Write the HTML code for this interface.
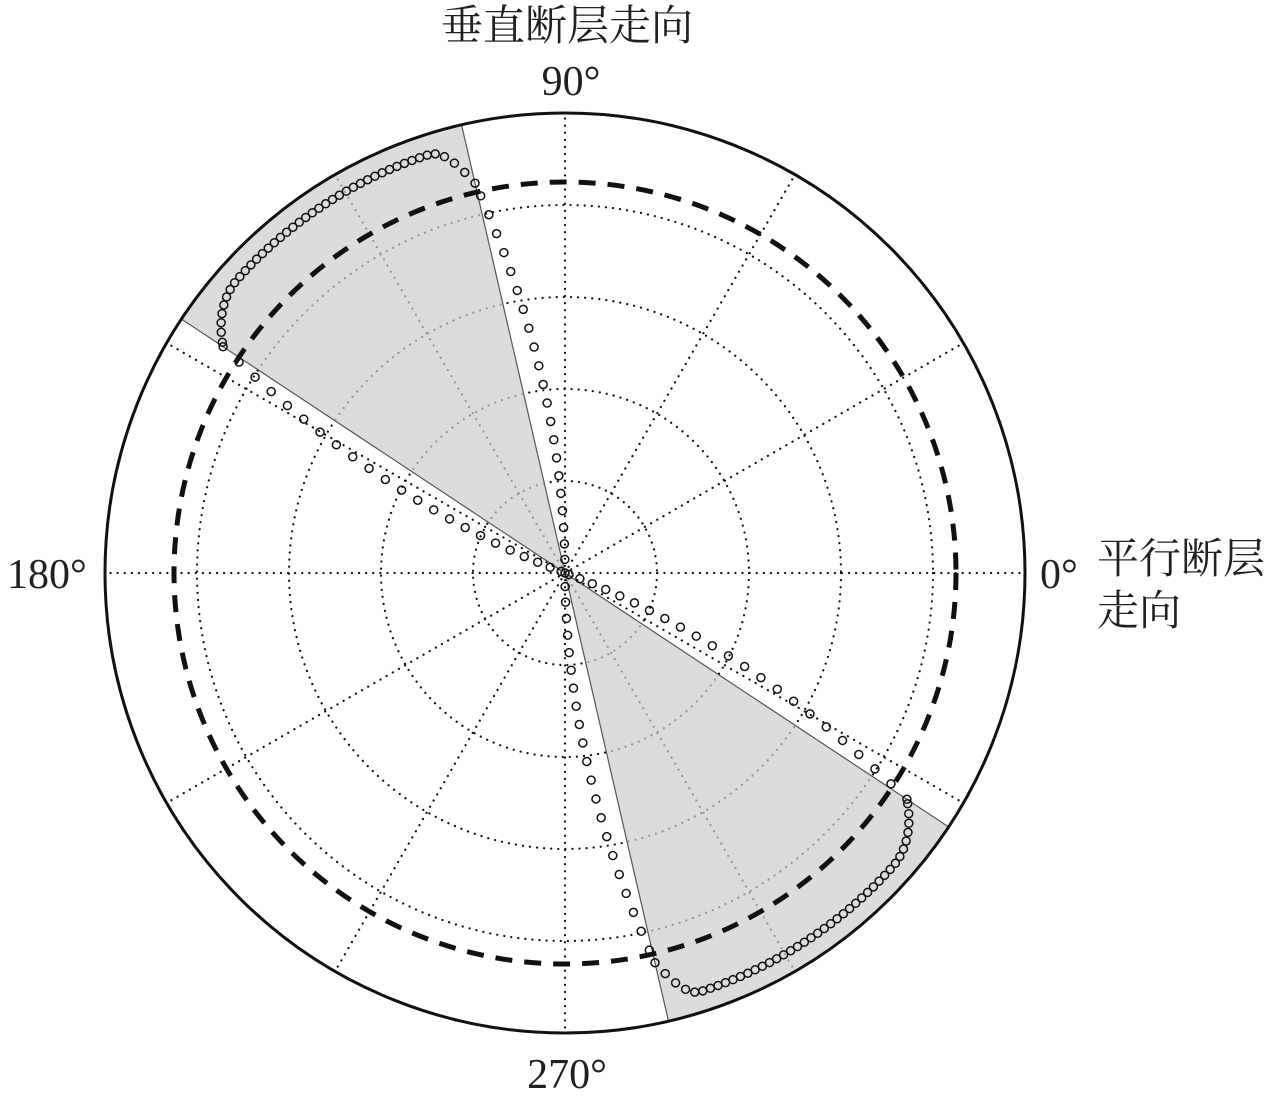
<!DOCTYPE html>
<html><head><meta charset="utf-8"><style>
html,body{margin:0;padding:0;background:#fff;}
svg{display:block}
text{font-family:"Liberation Serif","Noto Serif CJK SC",serif;fill:#231f20}
</style></head><body>
<svg id="s" width="1280" height="1100" viewBox="0 0 1280 1100" xmlns="http://www.w3.org/2000/svg">
<defs>
<clipPath id="cp"><path id="cpp"/></clipPath>
<mask id="mk"><rect width="1280" height="1100" fill="#fff"/><path id="mkp" fill="#000"/></mask>
</defs>
<g id="sect" fill="#dcdcdc" stroke="#555" stroke-width="1.2"></g>
<g id="gridB" fill="none" stroke="#111" stroke-width="2.2" stroke-linecap="round" stroke-dasharray="0.1 7" mask="url(#mk)"></g>
<g id="gridG" fill="none" stroke="#999" stroke-width="2.2" stroke-linecap="round" stroke-dasharray="0.1 7" clip-path="url(#cp)"></g>
<circle cx="565" cy="573" r="391" fill="none" stroke="#111" stroke-width="5" stroke-dasharray="17 12"/>
<circle cx="565" cy="573" r="460" fill="none" stroke="#111" stroke-width="3"/>
<g id="pts" fill="none" stroke="#111" stroke-width="1.5"></g>
<text x="567" y="40" font-size="42" text-anchor="middle">垂直断层走向</text>
<text x="571" y="95" font-size="42" text-anchor="middle">90°</text>
<text x="7" y="588" font-size="42">180°</text>
<text x="1040" y="588" font-size="42">0°</text>
<text x="1097" y="573" font-size="42">平行断层</text>
<text x="1097" y="625" font-size="42">走向</text>
<text x="567" y="1088" font-size="42" text-anchor="middle">270°</text>
</svg>
<script>
var NS="http://www.w3.org/2000/svg",cx=565,cy=573,R=460;
function el(t,a,p){var e=document.createElementNS(NS,t);for(var k in a)e.setAttribute(k,a[k]);document.getElementById(p).appendChild(e);return e;}
function P(r,d){var a=d*Math.PI/180;return [cx+r*Math.cos(a),cy-r*Math.sin(a)];}
var all='';
[[103,146.5],[283,326.5]].forEach(function(s){
 var a=P(R,s[0]),b=P(R,s[1]);
 var d='M'+cx+' '+cy+'L'+a[0]+' '+a[1]+'A'+R+' '+R+' 0 0 0 '+b[0]+' '+b[1]+'Z';
 el('path',{d:d},'sect');
 all+=d;
});
document.getElementById('cpp').setAttribute('d',all);
document.getElementById('mkp').setAttribute('d',all);
['gridB','gridG'].forEach(function(g){
 [92,184,276,368].forEach(function(r){el('circle',{cx:cx,cy:cy,r:r},g);});
 for(var d=0;d<360;d+=30){var a=P(R,d);el('line',{x1:cx,y1:cy,x2:a[0],y2:a[1]},g);}
});
function rad(t){
 if(t<90||t>160)return -1;
 if(t<103)return 400*Math.pow((t-90)/13,1.1);
 if(t<108)return 400+40*Math.sin((t-103)/5*Math.PI/2);
 if(t<=138)return 440;
 if(t<146.5)return 440-30*Math.pow((t-138)/8.5,2);
 return 410*Math.pow(Math.max(0,(160-t)/13.5),1.2);
}
var ts=[];
for(var t=90;t<103;t+=0.6)ts.push(t);
for(var t=103;t<146.5;t+=1.05)ts.push(t);
for(var t=146.5;t<=160;t+=0.6)ts.push(t);
ts.forEach(function(t){
 var r=rad(t);if(r<0)return;
 [0,180].forEach(function(o){var p=P(r,t+o);el('circle',{cx:p[0],cy:p[1],r:4},'pts');});
});
</script>
</body></html>
